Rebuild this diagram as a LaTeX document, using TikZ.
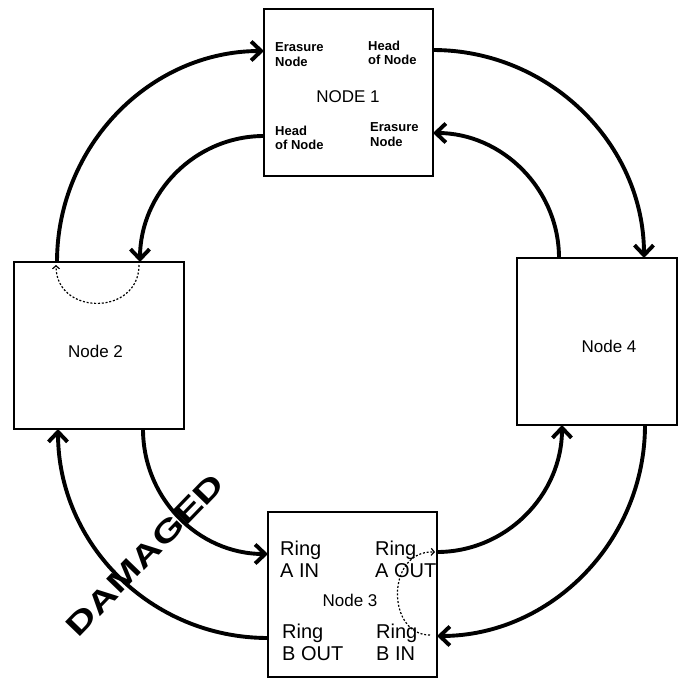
\documentclass[tikz,border=0pt]{standalone}
\usepackage{fontspec}
\setmainfont{Liberation Sans}
\usetikzlibrary{arrows.meta,calc}
\begin{document}
\begin{tikzpicture}[x=1pt,y=-1pt,
  boxed/.style={draw,line width=1.7pt,inner sep=0pt,outer sep=0pt},
  link/.style={line width=3.9pt,-{Straight Barb[length=10pt,width=19pt]}},
  selfloop/.style={line width=1.2pt,dash pattern=on 2pt off 1.8pt,-{Straight Barb[length=3pt,width=7pt]}},
  portlbl/.style={font=\bfseries\fontsize{13}{14.5}\selectfont,align=left,anchor=north west,inner sep=0pt},
  ringlbl/.style={font=\fontsize{20}{22}\selectfont,align=left,anchor=north west,inner sep=0pt},
  nodetitle/.style={font=\fontsize{17}{20}\selectfont,inner sep=0pt}]
\fill[white] (0,0) rectangle (678,680);
\useasboundingbox (0,0) rectangle (678,680);

% boxes
\node[boxed,minimum width=169pt,minimum height=167pt] (n1) at (348.5,92.5) {};
\node[boxed,minimum width=170pt,minimum height=167pt] (n2) at (99,345.5) {};
\node[boxed,minimum width=160pt,minimum height=167pt] (n4) at (597,341.5) {};
\node[boxed,minimum width=169pt,minimum height=165pt] (n3) at (352.5,594.5) {};

% titles
\node[nodetitle] (t1) at (348,97) {NODE 1};
\node[nodetitle] (t2) at (95.5,351) {Node 2};
\node[nodetitle] (t4) at (609,346) {Node 4};
\node[nodetitle] (t3) at (350,600.5) {Node 3};

% port labels of node 1
\node[portlbl] (e1) at (275,42.7) {Erasure\\Node};
\node[portlbl] (h1) at (368,40.7) {Head\\of Node};
\node[portlbl] (h2) at (275,125.7) {Head\\of Node};
\node[portlbl] (e2) at (370,122.7) {Erasure\\Node};

% ring labels of node 3
\node[ringlbl] (ai) at (280,540.6) {Ring\\A IN};
\node[ringlbl] (ao) at (375,540.6) {Ring\\A OUT};
\node[ringlbl] (bo) at (282,623.6) {Ring\\B OUT};
\node[ringlbl] (bi) at (376,623.6) {Ring\\B IN};

% ports
\coordinate (n1w1) at ($(n1.north west)+(0,42)$);
\coordinate (n1w2) at ($(n1.north west)+(0,127)$);
\coordinate (n1e1) at ($(n1.north east)+(0,41)$);
\coordinate (n1e2) at ($(n1.north east)+(0,124)$);
\coordinate (n2n1) at ($(n2.north west)+(43,0)$);
\coordinate (n2n2) at ($(n2.north west)+(126,0)$);
\coordinate (n2s1) at ($(n2.south west)+(44,0)$);
\coordinate (n2s2) at ($(n2.south west)+(129,0)$);
\coordinate (n4n1) at ($(n4.north west)+(42,0)$);
\coordinate (n4n2) at ($(n4.north west)+(127,0)$);
\coordinate (n4s1) at ($(n4.south west)+(45,0)$);
\coordinate (n4s2) at ($(n4.south west)+(128,0)$);
\coordinate (n3w1) at ($(n3.north west)+(0,42)$);
\coordinate (n3w2) at ($(n3.north west)+(0,126)$);
\coordinate (n3e1) at ($(n3.north east)+(0,40)$);
\coordinate (n3e2) at ($(n3.north east)+(0,124)$);

% ring connectors
\draw[link] (n2n1) .. controls +(0,-116) and +(-114,0) .. (n1w1);
\draw[link] (n1w2) .. controls +(-69,0) and +(0,-69) .. (n2n2);
\draw[link] (n1e1) .. controls +(116,0) and +(0,-114) .. (n4n2);
\draw[link] (n4n1) .. controls +(0,-69) and +(69,0) .. (n1e2);
\draw[link] (n4s2) .. controls +(0,116) and +(114,0) .. (n3e2);
\draw[link] (n3e1) .. controls +(69,0) and +(0,70) .. (n4s1);
\draw[link] (n2s2) .. controls +(0,69) and +(-70,0) .. (n3w1);
\draw[link] (n3w2) .. controls +(-117,0) and +(0,115) .. (n2s1);

% loop-backs
\draw[selfloop] ($(n2n2)+(-1,3)$) .. controls +(0,51) and +(0,51) .. ($(n2n1)+(-1,3)$);
\draw[selfloop] ($(n3e2)+(-7,-1)$) .. controls +(-44,0) and +(-49,-2) .. ($(n3e1)+(-2,0)$);

% damaged mark
\node[font=\bfseries\fontsize{30}{30}\selectfont,rotate=46,inner sep=0pt] (dmg) at (145,555) {\scalebox{1.37}[1]{DAMAGED}};
\end{tikzpicture}
\end{document}
